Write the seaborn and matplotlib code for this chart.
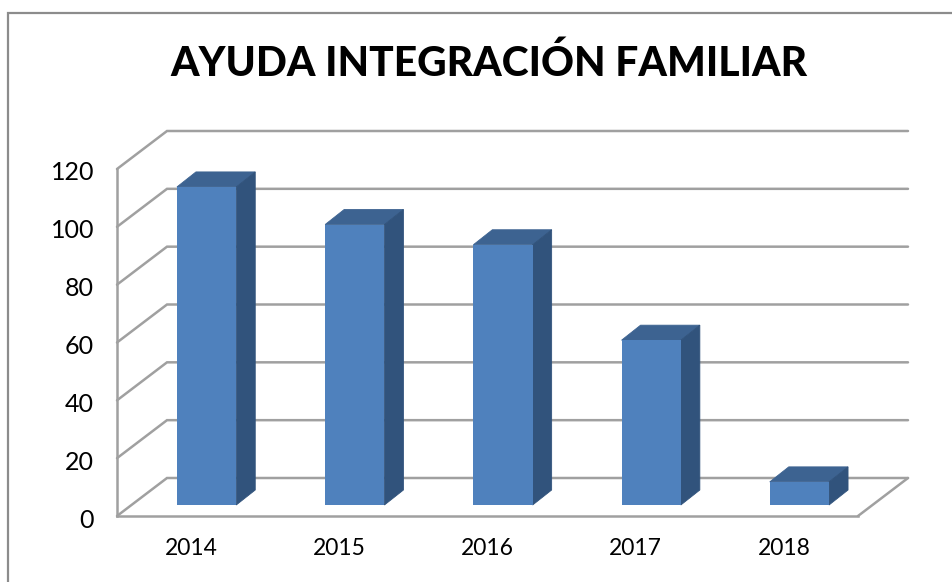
import matplotlib
matplotlib.use("Agg")
import matplotlib.pyplot as plt
import seaborn as sns
import pandas as pd
from matplotlib.patches import Polygon, Rectangle
from matplotlib.transforms import ScaledTranslation

years = ["2014", "2015", "2016", "2017", "2018"]
values = [110, 97, 90, 57, 8]
y_ticks = [0, 20, 40, 60, 80, 100, 120]
title = "AYUDA INTEGRACIÓN FAMILIAR"

W, H = 953, 582
L, R, B, T = 117, 858, 516, 169
sns.set_theme(style="white")
plt.rcParams["font.family"] = ["Lato", "DejaVu Sans"]

fig = plt.figure(figsize=(W / 100, H / 100), dpi=100, facecolor="white")
ax = fig.add_axes([L / W, 1 - B / H, (R - L) / W, (B - T) / H])
ax.set_facecolor("none")

df = pd.DataFrame({"year": years, "value": values})
sns.barplot(data=df, x="year", y="value", color="#4F81BD", saturation=1,
            width=0.4, ax=ax, zorder=3.2, linewidth=0)
ax.set_xlim(-0.5, 4.5)
ax.set_ylim(0, 120)

ux = (R - L) / 5      # pixels per category
uy = (B - T) / 120    # pixels per value unit
wall_dx, wall_dy = 50 / ux, 38 / uy
bar_ox, bar_oy = 15.5 / ux, 11 / uy
bar_dx, bar_dy = 19 / ux, 15 / uy

GRID = "#A0A0A0"
for v in y_ticks:
    ax.plot([-0.5, -0.5 + wall_dx, 4.5 + wall_dx], [v, v + wall_dy, v + wall_dy],
            color=GRID, lw=1.8, clip_on=False, zorder=1, solid_joinstyle="miter")
ax.plot([4.5, 4.5 + wall_dx], [0, wall_dy], color=GRID, lw=1.8, clip_on=False, zorder=1)

for p, v in zip(ax.patches, values):
    p.set_x(p.get_x() + bar_ox)
    p.set_y(bar_oy)
    p.set_clip_on(False)
    x0 = p.get_x()
    x1 = x0 + p.get_width()
    top = bar_oy + v
    ax.add_patch(Polygon([(x0, top), (x1, top), (x1 + bar_dx, top + bar_dy), (x0 + bar_dx, top + bar_dy)],
                         closed=True, fc="#3D6391", ec="#3D6391", lw=0.6, zorder=3, clip_on=False))
    ax.add_patch(Polygon([(x1, bar_oy), (x1 + bar_dx, bar_oy + bar_dy), (x1 + bar_dx, top + bar_dy), (x1, top)],
                         closed=True, fc="#31537C", ec="#31537C", lw=0.6, zorder=3.1, clip_on=False))

sns.despine(ax=ax, top=True, right=True)
for s in ("left", "bottom"):
    ax.spines[s].set_color(GRID)
    ax.spines[s].set_linewidth(1.8)
ax.set_xlabel("")
ax.set_ylabel("")
ax.set_yticks(y_ticks)
ax.tick_params(axis="y", length=0, pad=16.5, labelsize=18, labelcolor="black")
ax.tick_params(axis="x", length=0, pad=16, labelsize=16.5, labelcolor="black")
shift = ScaledTranslation(0, -2 / 100, fig.dpi_scale_trans)
for lab in ax.get_yticklabels():
    lab.set_transform(lab.get_transform() + shift)

fig.add_artist(Rectangle((8.5 / W, -0.1), 1.2, 1.1 - 12.5 / H, transform=fig.transFigure,
                         fill=False, ec="#8C8C8C", lw=1.6))
fig.text(488.5 / W, 1 - 63 / H, title, ha="center", va="center",
         fontsize=29.3, fontweight="black", color="black")

fig.savefig("out.png", dpi=100, facecolor="white")
